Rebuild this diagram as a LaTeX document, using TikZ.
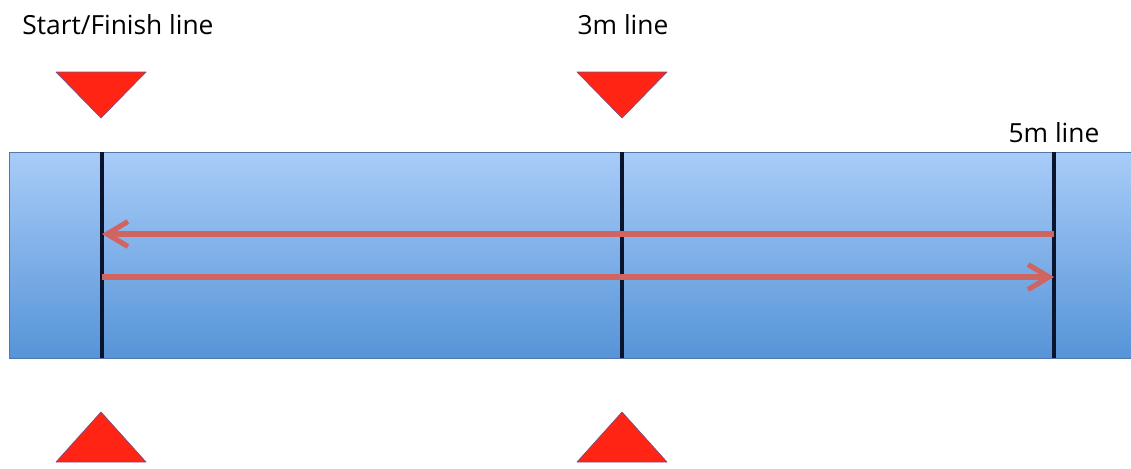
\documentclass[tikz,border=0pt]{standalone}
\usepackage{fontspec}
\setmainfont{Open Sans}
\usepackage{xcolor}
\usetikzlibrary{arrows.meta, positioning}

\definecolor{poolTop}{RGB}{168,204,248}
\definecolor{poolBottom}{RGB}{86,148,216}
\definecolor{poolEdge}{RGB}{80,120,170}
\definecolor{laneArrow}{RGB}{208,100,96}
\definecolor{markRed}{RGB}{255,36,20}
\definecolor{markEdge}{RGB}{120,80,130}
\definecolor{laneDark}{RGB}{10,20,45}

\begin{document}
\begin{tikzpicture}[
        x=0.02cm, y=-0.02cm,
        label text/.style = {
            font=\fontsize{15}{18}\selectfont,
            inner sep=0pt
        },
        lane line/.style = {
            line width=1.8pt,
            draw=laneDark
        },
        lap arrow/.style = {
            -{Straight Barb[length=4.2mm, width=5mm]},
            line width=2.9pt,
            draw=laneArrow
        },
        marker/.style = {
            fill=markRed,
            draw=markEdge,
            line width=0.4pt,
            line join=round
        }
    ]
    \useasboundingbox (0,0) rectangle (1131,468);

    % Pool
    \shade[top color=poolTop, bottom color=poolBottom] (9,152) rectangle (1131,358);
    \draw[poolEdge, line width=0.5pt] (1131,152) -- (9,152) -- (9,358) -- (1131,358);

    % Lines
    \foreach \name/\x in {start/102, three/622, five/1054} {
        \coordinate (\name-top) at (\x,152);
        \coordinate (\name-bot) at (\x,358);
        \coordinate (\name-a) at (\x,234);
        \coordinate (\name-b) at (\x,277);
        \draw[lane line] (\name-top) -- (\name-bot);
    }

    % Arrows
    \draw[lap arrow] (five-a)  -- (start-a);
    \draw[lap arrow] (start-b) -- (five-b);

    % Markers
    \foreach \x in {101, 622} {
        \draw[marker] (\x-45,72) -- (\x+45,72) -- (\x,118) -- cycle;
        \draw[marker] (\x,412) -- (\x+45,462) -- (\x-45,462) -- cycle;
    }

    % Labels
    \node[label text, anchor=base west] (startLabel) at (22,34)  {Start/Finish line};
    \node[label text, anchor=base]      (threeLabel) at (623,34) {3m line};
    \node[label text, anchor=base]      (fiveLabel)  at (1054,142) {5m line};

\end{tikzpicture}
\end{document}
